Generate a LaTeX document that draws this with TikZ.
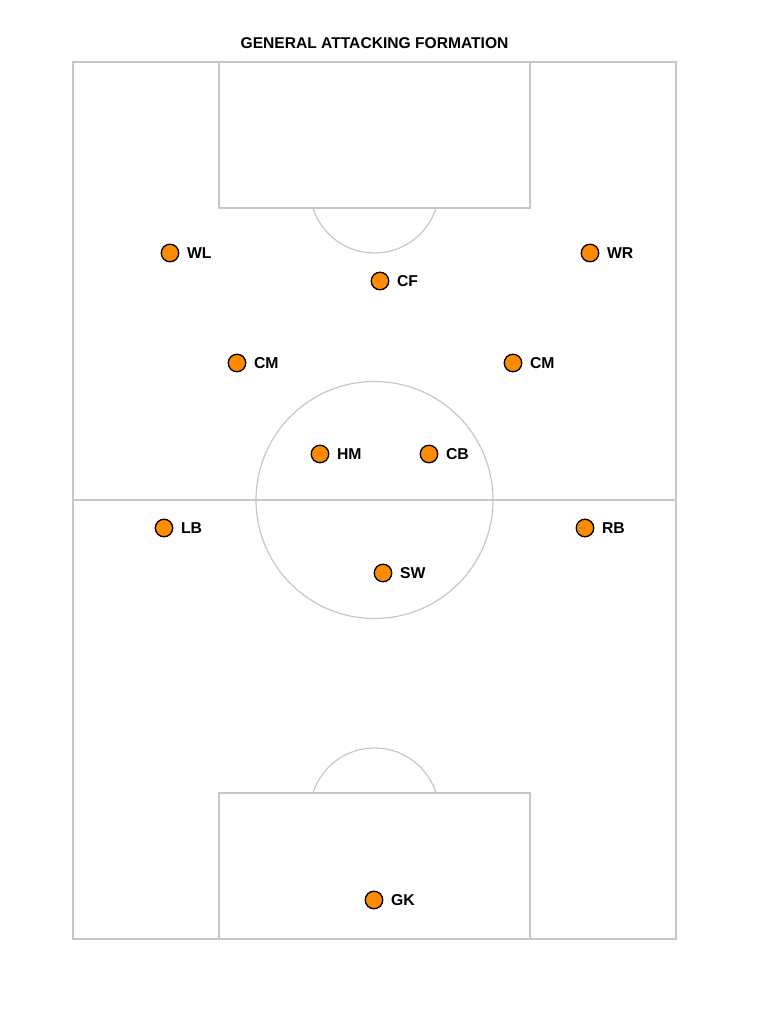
\documentclass[tikz,border=0pt]{standalone}
\usepackage{fontspec}
\setmainfont{Liberation Sans}
\begin{document}
\begin{tikzpicture}[x=0.75pt,y=-0.75pt,
  field/.style={draw=black!22,line width=0.9pt},
  player/.style={circle,draw=black,line width=1pt,fill=orange!90!yellow,minimum size=17.5*0.75pt,inner sep=0pt},
  plabel/.style={font=\bfseries\fontsize{11.8}{13}\selectfont,anchor=west,inner sep=0pt},
  titlestyle/.style={font=\bfseries\fontsize{11.7}{13}\selectfont}]
\useasboundingbox (0,0) rectangle (768,1024);
% title
\node[titlestyle] (title) at (374.5,43) {GENERAL ATTACKING FORMATION};
% field
\draw[field] (73,62) rectangle (676,939);
\draw[field] (73,500) -- (676,500);
\draw[field] (374.5,500) circle (118.5);
\draw[field] (219,62) rectangle (530,208);
\draw[field] (219,793) rectangle (530,939);
% penalty arcs
\begin{scope}
\clip (0,208) rectangle (768,300);
\draw[field] (374.5,188.5) circle (64.5);
\end{scope}
\begin{scope}
\clip (0,700) rectangle (768,793);
\draw[field] (374.5,812.5) circle (64.5);
\end{scope}
% players
\foreach \n/\x/\y/\t in {wl/170/253/WL, cf/380/281/CF, wr/590/253/WR,
  cml/237/363/CM, cmr/513/363/CM, hm/320/454/HM, cb/429/454/CB,
  lb/164/528/LB, rb/585/528/RB, sw/383/573/SW, gk/374/900/GK} {
  \node[player] (\n) at (\x,\y) {};
  \node[plabel] (\n-l) at ([xshift=5.5pt]\n.east) {\t};
}
\end{tikzpicture}
\end{document}
